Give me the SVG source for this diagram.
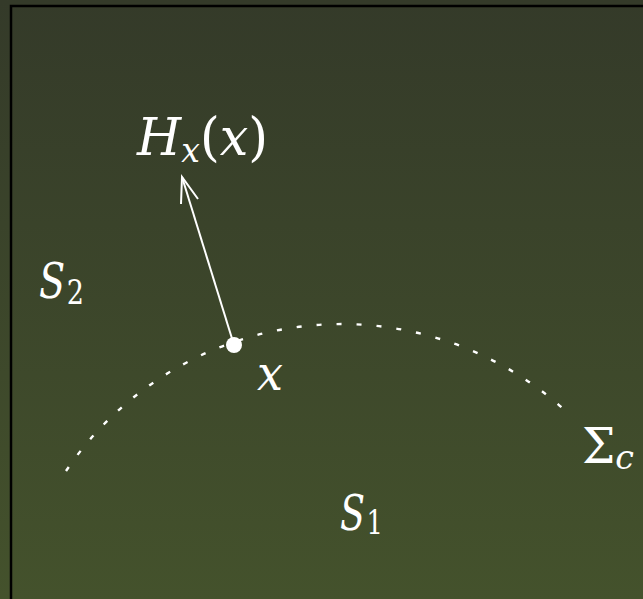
<svg xmlns="http://www.w3.org/2000/svg" width="643" height="599" viewBox="0 0 643 599">
<defs>
<linearGradient id="bg" x1="0" y1="0" x2="0" y2="1">
<stop offset="0" stop-color="#343a29"/>
<stop offset="1" stop-color="#44522c"/>
</linearGradient>
<style>
text{font-family:"DejaVu Serif","Liberation Serif",serif;fill:#ffffff;font-size:48px}
.i{font-style:italic}
.u{font-style:normal}
.sub{font-size:34px}
.h{font-size:52px}
</style>
</defs>
<rect x="0" y="0" width="643" height="599" fill="url(#bg)"/>
<rect x="11" y="6" width="700" height="700" fill="none" stroke="#000000" stroke-width="2.5"/>
<g id="connectors">
<path d="M66,471 A332,332 0 0 1 571,416" fill="none" stroke="#ffffff" stroke-width="2.4" stroke-dasharray="5 15"/>
<line x1="234" y1="345" x2="182" y2="177" stroke="#ffffff" stroke-width="2"/>
<polyline points="181,204 182,177 198,199" fill="none" stroke="#ffffff" stroke-width="2"/>
</g>
<g id="point-x">
<circle cx="234" cy="345" r="8" fill="#ffffff"/>
<text class="i" x="257" y="390" textLength="26" lengthAdjust="spacingAndGlyphs">x</text>
</g>
<g id="label-H">
<text class="i h" x="137" y="155" textLength="131" lengthAdjust="spacingAndGlyphs">H<tspan class="sub" dy="7">x</tspan><tspan class="u" dy="-7">(</tspan>x<tspan class="u">)</tspan></text>
</g>
<g id="label-S2">
<text class="i" x="39" y="298" textLength="45" lengthAdjust="spacingAndGlyphs">S<tspan class="sub u" dx="2" dy="6">2</tspan></text>
</g>
<g id="label-S1">
<text class="i" x="340" y="530" textLength="43" lengthAdjust="spacingAndGlyphs">S<tspan class="sub u" dx="2" dy="4">1</tspan></text>
</g>
<g id="label-Sigma">
<text x="582" y="463" textLength="52" lengthAdjust="spacingAndGlyphs">Σ<tspan class="sub i" dy="6">c</tspan></text>
</g>
</svg>
